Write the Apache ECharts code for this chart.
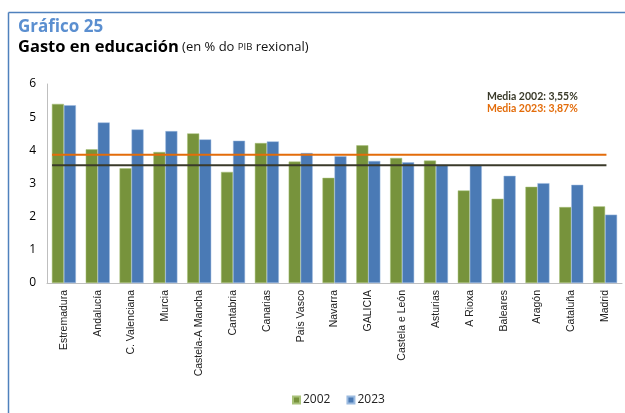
<!DOCTYPE html>
<html><head><meta charset="utf-8">
<script src="https://cdn.jsdelivr.net/npm/echarts@6/dist/echarts.min.js"></script>
<style>html,body{margin:0;padding:0;background:#fff}#c{width:625px;height:413px}</style>
</head><body><div id="c"></div>
<script>
const categories = ["Estremadura","Andalucía","C. Valenciana","Murcia","Castela-A Mancha","Cantabria","Canarias","País Vasco","Navarra","GALICIA","Castela e León","Asturias","A Rioxa","Baleares","Aragón","Cataluña","Madrid"];
const values2002 = [5.40,4.03,3.46,3.95,4.51,3.35,4.22,3.66,3.17,4.15,3.77,3.69,2.79,2.54,2.90,2.29,2.31];
const values2023 = [5.36,4.84,4.63,4.58,4.33,4.29,4.27,3.92,3.82,3.68,3.64,3.56,3.56,3.23,3.01,2.96,2.06];
const mean2002 = 3.55;
const mean2023 = 3.87;
const yTicks = [0,1,2,3,4,5,6];
const meanSpan = [-0.35, 16.04];

const chart = echarts.init(document.getElementById('c'));
chart.setOption({
  animation: false,
  backgroundColor: '#fff',
  title: {
    left: 13, top: 14,
    text: 'Gráfico 25',
    textStyle: {fontFamily: 'Open Sans', fontSize: 17, fontWeight: 'bold', color: '#5b8fd0'},
    subtext: '{a|Gasto en educación} {b|(en % do }{c|PIB}{b| rexional)}',
    itemGap: 3,
    subtextStyle: {
      rich: {
        a: {fontFamily: 'Open Sans', fontSize: 16.5, fontWeight: 'bold', color: '#000'},
        b: {fontFamily: 'Open Sans', fontSize: 13, color: '#111'},
        c: {fontFamily: 'Open Sans', fontSize: 9.5, color: '#111'}
      }
    }
  },
  graphic: [
    {type: 'line', shape: {x1: 8.5, y1: 12.5, x2: 625, y2: 12.5}, style: {stroke: '#4f81bd', lineWidth: 1.5}},
    {type: 'line', shape: {x1: 8.5, y1: 12.5, x2: 8.5, y2: 413}, style: {stroke: '#4f81bd', lineWidth: 1.5}},
    {type: 'text', left: 487, top: 91, style: {text: 'Media 2002: ' + String(mean2002).replace('.', ',') + '%', fill: '#3a3a2a', font: 'bold 10.5px Lato'}},
    {type: 'text', left: 487, top: 103, style: {text: 'Media 2023: ' + String(mean2023).replace('.', ',') + '%', fill: '#e36c0a', font: 'bold 10.5px Lato'}}
  ],
  legend: {
    bottom: 2, left: 287,
    itemWidth: 7, itemHeight: 7, itemGap: 16,
    icon: 'rect',
    textStyle: {fontFamily: 'Open Sans', fontSize: 12, color: '#222', padding: [0, 0, 0, -2]},
    data: ['2002', '2023']
  },
  grid: {left: 47, right: 3, top: 84, bottom: 130},
  xAxis: [
    {
      type: 'category', data: categories,
      axisLine: {lineStyle: {color: '#bfbfbf'}},
      axisTick: {show: false},
      axisLabel: {rotate: 90, interval: 0, margin: 7, fontFamily: 'Liberation Sans', fontSize: 10.5, color: '#222'}
    },
    {type: 'value', min: -0.5, max: 16.5, show: false}
  ],
  yAxis: {
    type: 'value', min: 0, max: 6, interval: 1,
    axisLine: {show: true, onZero: false, lineStyle: {color: '#bfbfbf'}},
    axisTick: {show: false},
    splitLine: {show: false},
    axisLabel: {margin: 11, fontFamily: 'Open Sans', fontSize: 12, color: '#000',
      formatter: v => yTicks.includes(v) ? String(v) : ''}
  },
  series: [
    {name: '2002', type: 'bar', data: values2002, barGap: '0%', barCategoryGap: '29%',
      itemStyle: {color: '#77933c', borderColor: '#a9c27a', borderWidth: 0.5}},
    {name: '2023', type: 'bar', data: values2023,
      itemStyle: {color: '#4a7ab5', borderColor: '#9cbbe0', borderWidth: 0.5}},
    {name: 'm2002', type: 'line', xAxisIndex: 1, symbol: 'none', silent: true,
      data: meanSpan.map(x => [x, mean2002]), lineStyle: {color: '#3a3a2a', width: 2}},
    {name: 'm2023', type: 'line', xAxisIndex: 1, symbol: 'none', silent: true,
      data: meanSpan.map(x => [x, mean2023]), lineStyle: {color: '#e36c0a', width: 2}}
  ]
});
</script></body></html>
